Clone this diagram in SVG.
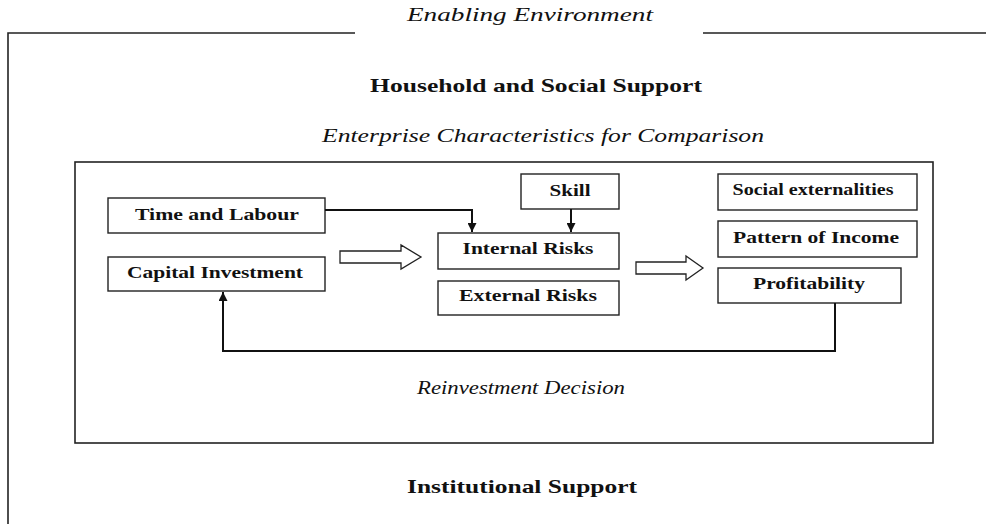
<svg xmlns="http://www.w3.org/2000/svg" width="986" height="524" viewBox="0 0 986 524">
<defs>
<style>
.frame{fill:none;stroke:#222;stroke-width:1.6}
.box{fill:#fff;stroke:#222;stroke-width:1.4}
.conn{fill:none;stroke:#111;stroke-width:2}
.hollow{fill:#fff;stroke:#222;stroke-width:1.3;stroke-linejoin:miter}
.lbl{font-family:"Liberation Serif","Times New Roman",serif;font-weight:bold;font-size:17px;fill:#111;text-anchor:middle}
.head{font-family:"Liberation Serif","Times New Roman",serif;font-weight:bold;font-size:19px;fill:#111;text-anchor:middle}
.ital{font-family:"Liberation Serif","Times New Roman",serif;font-style:italic;font-size:18.5px;fill:#111;text-anchor:middle}
</style>
<marker id="arr" viewBox="0 0 10 10" refX="10" refY="5" markerWidth="4.5" markerHeight="4.5" orient="auto" markerUnits="strokeWidth">
<path d="M0,0 L10,5 L0,10 z" fill="#111"/>
</marker>
</defs>
<rect width="986" height="524" fill="#fff"/>

<g id="enabling-environment">
<path class="frame" d="M355,33 H8 V524 M703,33 H986"/>
<text class="ital" x="530" y="21" textLength="246" lengthAdjust="spacingAndGlyphs">Enabling Environment</text>
</g>

<g id="household-support">
<text class="head" x="536" y="92" textLength="332" lengthAdjust="spacingAndGlyphs">Household and Social Support</text>
</g>

<g id="enterprise-characteristics">
<rect class="frame" x="75" y="162" width="858" height="281"/>
<text class="ital" x="543" y="142" textLength="442" lengthAdjust="spacingAndGlyphs">Enterprise Characteristics for Comparison</text>
</g>

<g id="time-labour">
<rect class="box" x="108" y="198" width="217" height="35"/>
<text class="lbl" x="217" y="220" textLength="164" lengthAdjust="spacingAndGlyphs">Time and Labour</text>
</g>

<g id="capital-investment">
<rect class="box" x="108" y="257" width="217" height="34"/>
<text class="lbl" x="215" y="278" textLength="176" lengthAdjust="spacingAndGlyphs">Capital Investment</text>
</g>

<g id="skill">
<rect class="box" x="521" y="174" width="98" height="35"/>
<text class="lbl" x="570" y="196" textLength="41" lengthAdjust="spacingAndGlyphs">Skill</text>
</g>

<g id="internal-risks">
<rect class="box" x="438" y="233" width="181" height="36"/>
<text class="lbl" x="528" y="254" textLength="131" lengthAdjust="spacingAndGlyphs">Internal Risks</text>
</g>

<g id="external-risks">
<rect class="box" x="438" y="281" width="181" height="34"/>
<text class="lbl" x="528" y="301" textLength="138" lengthAdjust="spacingAndGlyphs">External Risks</text>
</g>

<g id="social-externalities">
<rect class="box" x="718" y="174" width="199" height="36"/>
<text class="lbl" x="813" y="195" textLength="161" lengthAdjust="spacingAndGlyphs">Social externalities</text>
</g>

<g id="pattern-of-income">
<rect class="box" x="718" y="221" width="199" height="36"/>
<text class="lbl" x="816" y="243" textLength="166" lengthAdjust="spacingAndGlyphs">Pattern of Income</text>
</g>

<g id="profitability">
<rect class="box" x="718" y="268" width="183" height="35"/>
<text class="lbl" x="809" y="289" textLength="112" lengthAdjust="spacingAndGlyphs">Profitability</text>
</g>

<g id="reinvestment-decision">
<text class="ital" x="521" y="394" font-size="16.5" textLength="208" lengthAdjust="spacingAndGlyphs">Reinvestment Decision</text>
</g>

<g id="institutional-support">
<text class="head" x="522" y="493" textLength="230" lengthAdjust="spacingAndGlyphs">Institutional Support</text>
</g>

<g id="connectors">
<path class="conn" d="M325,210 H472 V232" marker-end="url(#arr)"/>
<path class="conn" d="M571,209 V232" marker-end="url(#arr)"/>
<path class="conn" d="M835,303 V351 H223 V292" marker-end="url(#arr)"/>
<polygon class="hollow" points="340,251 401,251 401,245 421,257 401,269 401,263 340,263"/>
<polygon class="hollow" points="636,262 686,262 686,256 703,268 686,280 686,274 636,274"/>
</g>
</svg>
